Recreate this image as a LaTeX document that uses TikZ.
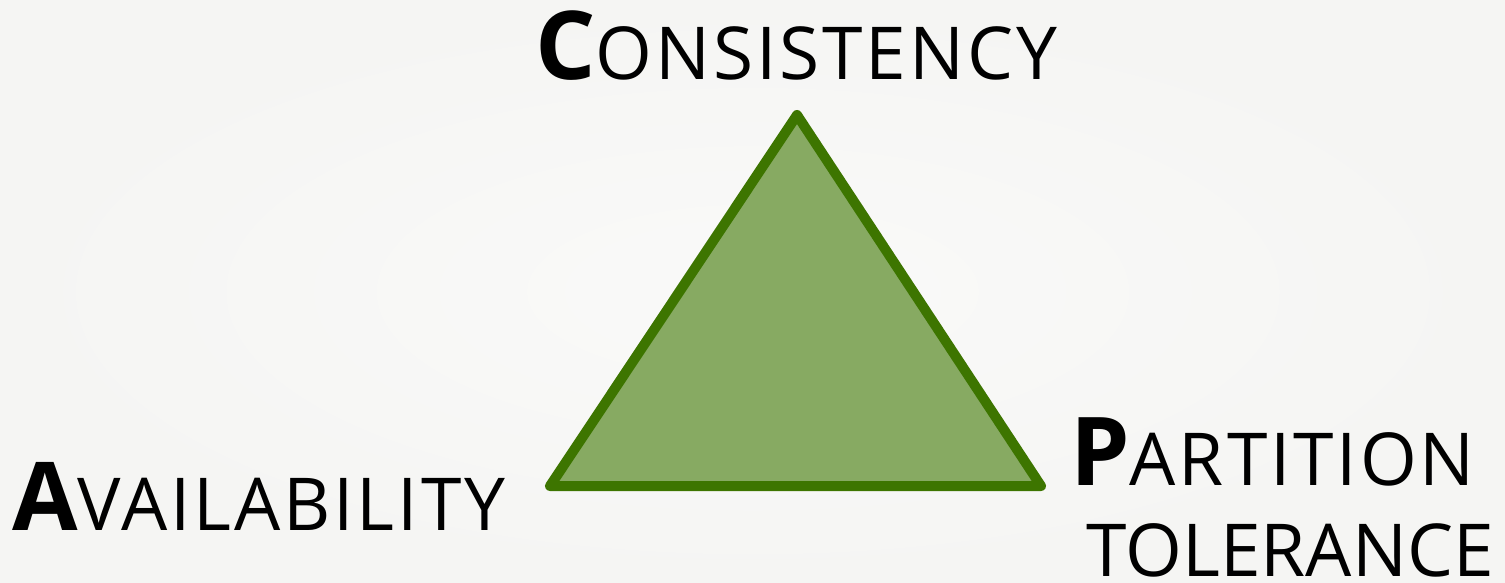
\documentclass[tikz,border=0pt]{standalone}
\usepackage{fontspec}
\setmainfont{Open Sans}
\usepackage{tikz}
\usetikzlibrary{positioning}
\usepackage{xcolor}
\definecolor{LeafGreen}{HTML}{3D7500}
\definecolor{SageGreen}{HTML}{87AA62}
\definecolor{PaperGray}{HTML}{F5F5F3}
\definecolor{PaperLight}{HTML}{FAFAF9}

\newcommand{\capword}[2]{{\fontsize{95}{100}\selectfont\bfseries #1}{\fontsize{73}{80}\selectfont\addfontfeatures{LetterSpace=4}#2}}

\begin{document}
\begin{tikzpicture}[x=1pt, y=-1pt]
  % Background
  \shade[inner color=PaperLight, outer color=PaperGray] (0,0) rectangle (1505,583);
  \useasboundingbox (0,0) rectangle (1505,583);

  % Vertices
  \coordinate (cvert) at (797,115);
  \coordinate (avert) at (550,486);
  \coordinate (pvert) at (1041,486);

  % Triangle
  \draw[LeafGreen, fill=SageGreen, line width=10pt, line join=round]
    (avert) -- (cvert) -- (pvert) -- cycle;

  % Labels
  \node[anchor=base west, inner sep=0pt, text=black] (cons) at (535,80)
    {\capword{C}{ONSISTENCY}};
  \node[anchor=base west, inner sep=0pt, text=black] (avail) at (12,530)
    {\capword{A}{VAILABILITY}};
  \node[anchor=base west, inner sep=0pt, text=black] (part) at (1070,485)
    {\capword{P}{ARTITION}};
  \node[anchor=base east, inner sep=0pt, text=black] (toler) at (1494,576)
    {\fontsize{73}{80}\selectfont TOLERANCE};
\end{tikzpicture}
\end{document}
